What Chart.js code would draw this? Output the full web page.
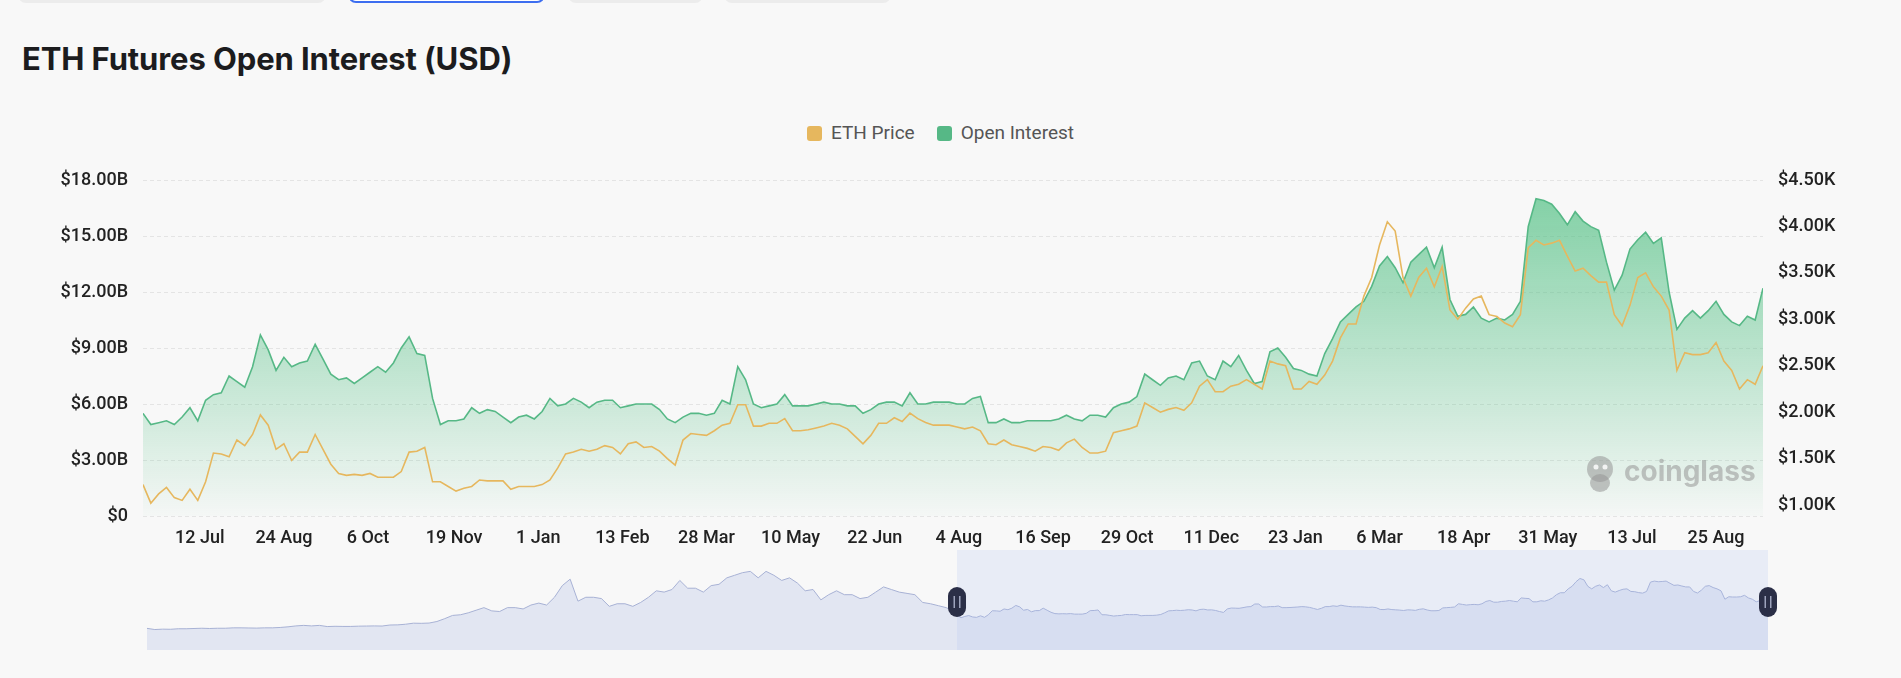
<!DOCTYPE html>
<html>
<head>
<meta charset="utf-8">
<title>ETH Futures Open Interest (USD)</title>
<script src="https://cdn.jsdelivr.net/npm/chart.js@4.4.1/dist/chart.umd.min.js"></script>
<style>
  html, body { margin: 0; padding: 0; background: #f8f8f8; }
  body { width: 1901px; height: 678px; position: relative; overflow: hidden; font-family: Roboto, "Noto Sans", sans-serif; }
  .tab { position: absolute; top: -31px; height: 34px; border-radius: 8px; background: #ececec; box-sizing: border-box; }
  .tab.active { background: #ffffff; border: 2px solid #3d6ef0; }
  h1 { position: absolute; left: 22px; top: 43px; margin: 0; font: 700 31px/31px Inter, sans-serif; letter-spacing: -0.1px; color: #1c1c1e; }
  #legend { position: absolute; left: 807px; top: 122px; height: 22px; display: flex; align-items: center; gap: 22px; font: 400 19px/22px Roboto, sans-serif; color: #555; }
  #legend .item { display: flex; align-items: center; gap: 9px; }
  #legend .box { width: 15px; height: 15px; border-radius: 3px; }
  #main { position: absolute; left: 0; top: 0; }
  #slider { position: absolute; left: 0; top: 540px; }
</style>
</head>
<body>
<div class="tab" style="left:18px;width:308px"></div>
<div class="tab active" style="left:348px;width:197px"></div>
<div class="tab" style="left:568px;width:135px"></div>
<div class="tab" style="left:724px;width:167px"></div>
<h1>ETH Futures Open Interest (USD)</h1>
<div id="legend"></div>
<canvas id="main" width="1901" height="560"></canvas>
<canvas id="slider" width="1901" height="120"></canvas>
<script>
// ---------- data ----------
const START_DATE = '2022-06-13';      // first point of the main chart
const STEP_DAYS = 4;                  // one sample every 4 days
const HISTORY_START = '2020-03-08';   // first point of the zoom slider
const HISTORY_STEP_DAYS = 8;

// x-axis tick labels (dates)
const tickDates = ['2022-07-12', '2022-08-24', '2022-10-06', '2022-11-19', '2023-01-01', '2023-02-13',
  '2023-03-28', '2023-05-10', '2023-06-22', '2023-08-04', '2023-09-16', '2023-10-29', '2023-12-11',
  '2024-01-23', '2024-03-06', '2024-04-18', '2024-05-31', '2024-07-13', '2024-08-25'];
const leftTicks = [0, 3, 6, 9, 12, 15, 18];                  // $B
const rightTicks = [1, 1.5, 2, 2.5, 3, 3.5, 4, 4.5];         // $K

// open interest, $B
const openInterest = [
  5.5, 4.9, 5.0, 5.1, 4.9, 5.3, 5.8, 5.1, 6.2, 6.5,
  6.6, 7.5, 7.2, 6.9, 8.0, 9.7, 8.9, 7.8, 8.5, 8.0,
  8.2, 8.3, 9.2, 8.4, 7.6, 7.3, 7.4, 7.1, 7.4, 7.7,
  8.0, 7.7, 8.2, 9.0, 9.6, 8.7, 8.6, 6.3, 4.9, 5.1,
  5.1, 5.2, 5.8, 5.5, 5.7, 5.6, 5.3, 5.0, 5.3, 5.4,
  5.2, 5.6, 6.3, 5.9, 6.0, 6.3, 6.1, 5.8, 6.1, 6.2,
  6.2, 5.8, 5.9, 6.0, 6.0, 6.0, 5.7, 5.2, 5.0, 5.3,
  5.5, 5.5, 5.4, 5.5, 6.2, 6.0, 8.0, 7.3, 6.0, 5.8,
  5.9, 6.0, 6.5, 5.9, 5.9, 5.9, 6.0, 6.1, 6.0, 6.0,
  5.9, 5.9, 5.5, 5.7, 6.0, 6.1, 6.1, 5.9, 6.6, 6.0,
  6.0, 6.1, 6.1, 6.1, 6.0, 6.0, 6.3, 6.4, 5.0, 5.0,
  5.2, 5.0, 5.0, 5.1, 5.1, 5.1, 5.1, 5.2, 5.4, 5.2,
  5.1, 5.4, 5.4, 5.3, 5.8, 6.0, 6.1, 6.4, 7.6, 7.3,
  7.0, 7.4, 7.5, 7.3, 8.2, 8.3, 7.5, 7.3, 8.3, 8.0,
  8.6, 7.8, 7.1, 7.2, 8.8, 9.0, 8.5, 7.9, 7.8, 7.6,
  7.5, 8.7, 9.5, 10.4, 10.8, 11.2, 11.5, 12.3, 13.4, 13.9,
  13.3, 12.5, 13.6, 14.0, 14.4, 13.3, 14.4, 11.6, 10.7, 10.8,
  11.2, 10.6, 10.4, 10.6, 10.5, 10.8, 11.5, 15.5, 17.0, 16.9,
  16.7, 16.2, 15.6, 16.3, 15.8, 15.5, 15.3, 13.6, 12.1, 12.9,
  14.3, 14.8, 15.2, 14.6, 14.9, 12.0, 10.0, 10.6, 11.0, 10.6,
  11.0, 11.5, 10.8, 10.4, 10.2, 10.7, 10.5, 12.2
];

// ETH price, $K
const ethPrice = [
  1.22, 1.02, 1.12, 1.19, 1.08, 1.05, 1.17, 1.05, 1.25, 1.56,
  1.55, 1.52, 1.70, 1.64, 1.76, 1.97, 1.86, 1.60, 1.66, 1.48,
  1.57, 1.57, 1.76, 1.60, 1.44, 1.34, 1.32, 1.33, 1.32, 1.34,
  1.30, 1.30, 1.30, 1.36, 1.57, 1.58, 1.62, 1.25, 1.25, 1.20,
  1.15, 1.18, 1.20, 1.27, 1.26, 1.26, 1.26, 1.17, 1.20, 1.20,
  1.20, 1.22, 1.27, 1.40, 1.55, 1.57, 1.60, 1.58, 1.60, 1.64,
  1.62, 1.55, 1.66, 1.68, 1.62, 1.63, 1.58, 1.50, 1.43, 1.70,
  1.77, 1.76, 1.75, 1.80, 1.86, 1.88, 2.08, 2.08, 1.85, 1.85,
  1.88, 1.88, 1.93, 1.80, 1.80, 1.81, 1.83, 1.85, 1.88, 1.86,
  1.82, 1.74, 1.66, 1.75, 1.88, 1.88, 1.94, 1.90, 1.99, 1.93,
  1.89, 1.86, 1.86, 1.86, 1.84, 1.82, 1.84, 1.80, 1.66, 1.65,
  1.70, 1.65, 1.63, 1.61, 1.58, 1.63, 1.62, 1.59, 1.67, 1.71,
  1.62, 1.56, 1.56, 1.58, 1.78, 1.80, 1.82, 1.85, 2.10, 2.05,
  2.00, 2.03, 2.05, 2.02, 2.10, 2.28, 2.35, 2.22, 2.22, 2.28,
  2.30, 2.35, 2.30, 2.25, 2.55, 2.52, 2.50, 2.25, 2.25, 2.33,
  2.30, 2.40, 2.55, 2.80, 2.95, 2.95, 3.25, 3.45, 3.80, 4.05,
  3.95, 3.45, 3.25, 3.45, 3.55, 3.35, 3.57, 3.10, 3.00, 3.12,
  3.22, 3.25, 3.05, 3.03, 2.96, 2.92, 3.05, 3.77, 3.85, 3.80,
  3.82, 3.85, 3.68, 3.52, 3.55, 3.47, 3.40, 3.40, 3.05, 2.93,
  3.15, 3.45, 3.50, 3.35, 3.25, 3.10, 2.45, 2.64, 2.62, 2.62,
  2.64, 2.75, 2.55, 2.45, 2.25, 2.35, 2.30, 2.50
];

// ETH price before the main window, $K (only in the zoom slider)
const ethPriceHistory = [
  0.20, 0.11, 0.14, 0.13, 0.17, 0.17, 0.19, 0.21, 0.19, 0.21,
  0.21, 0.24, 0.24, 0.23, 0.22, 0.24, 0.24, 0.27, 0.32, 0.39,
  0.43, 0.39, 0.43, 0.34, 0.36, 0.35, 0.35, 0.37, 0.38, 0.39,
  0.38, 0.46, 0.47, 0.52, 0.60, 0.59, 0.61, 0.73, 0.95, 1.20,
  1.25, 1.40, 1.60, 1.80, 1.55, 1.50, 1.80, 1.80, 1.70, 2.00,
  2.15, 2.00, 2.60, 3.50, 4.00, 2.30, 2.60, 2.60, 2.50, 1.90,
  2.10, 2.10, 1.90, 2.20, 2.60, 3.10, 3.00, 3.20, 3.90, 3.30,
  3.30, 3.00, 3.50, 3.60, 4.10, 4.30, 4.50, 4.60, 4.10, 4.60,
  4.30, 3.90, 4.10, 3.70, 3.10, 3.20, 2.40, 2.80, 3.10, 2.80,
  2.80, 2.50, 2.60, 3.00, 3.40, 3.20, 3.00, 2.90, 2.80, 2.20,
  2.10, 1.95, 1.80, 1.50
];

// ---------- helpers ----------
const MONTHS = ['Jan', 'Feb', 'Mar', 'Apr', 'May', 'Jun', 'Jul', 'Aug', 'Sep', 'Oct', 'Nov', 'Dec'];
const DAY = 86400000;
function daysBetween(a, b) { return Math.round((Date.parse(b) - Date.parse(a)) / DAY); }
function dayOf(iso) { return daysBetween(START_DATE, iso); }
function shortDate(iso) { const d = new Date(Date.parse(iso)); return d.getUTCDate() + ' ' + MONTHS[d.getUTCMonth()]; }

const lastDay = (openInterest.length - 1) * STEP_DAYS;
const oiPoints = openInterest.map((v, i) => ({ x: i * STEP_DAYS, y: v }));
const pricePoints = ethPrice.map((v, i) => ({ x: i * STEP_DAYS, y: v }));

const axisFont = { family: 'Roboto', size: 18, weight: '500' };

// coinglass watermark in the lower right of the plot
const watermark = {
  id: 'watermark',
  afterDatasetsDraw(chart) {
    const c = chart.ctx, a = chart.chartArea;
    c.save();
    c.fillStyle = 'rgba(150,150,150,0.55)';
    const cx = a.right - 163, cy = a.bottom - 44;
    c.beginPath();
    c.arc(cx, cy - 3, 13, 0, Math.PI * 2);
    c.fill();
    c.beginPath();
    c.ellipse(cx, cy + 11, 10, 9, 0, 0, Math.PI * 2);
    c.fill();
    c.fillStyle = 'rgba(248,248,248,0.9)';
    c.beginPath();
    c.arc(cx - 4, cy - 5, 2.5, 0, Math.PI * 2);
    c.arc(cx + 5, cy - 5, 2.5, 0, Math.PI * 2);
    c.fill();
    c.fillStyle = 'rgba(150,150,150,0.55)';
    c.font = '700 28px Inter, sans-serif';
    c.textBaseline = 'alphabetic';
    c.fillText('coinglass', cx + 24, cy + 9);
    c.restore();
  }
};

// ---------- main chart ----------
const mainChart = new Chart(document.getElementById('main').getContext('2d'), {
  type: 'line',
  data: {
    datasets: [
      {
        label: 'ETH Price',
        data: pricePoints,
        yAxisID: 'y1',
        borderColor: '#e6b75e',
        borderWidth: 1.6,
        pointRadius: 0,
        tension: 0,
        fill: false
      },
      {
        label: 'Open Interest',
        data: oiPoints,
        yAxisID: 'y',
        borderColor: '#56b886',
        borderWidth: 1.6,
        pointRadius: 0,
        tension: 0,
        fill: 'origin',
        backgroundColor(context) {
          const area = context.chart.chartArea;
          if (!area) return 'rgba(77,190,128,0.3)';
          const g = context.chart.ctx.createLinearGradient(0, area.top, 0, area.bottom);
          g.addColorStop(0, 'rgba(77,190,128,0.72)');
          g.addColorStop(1, 'rgba(77,190,128,0.02)');
          return g;
        }
      }
    ]
  },
  options: {
    responsive: false,
    animation: false,
    layout: { padding: { top: 180, left: 0, right: 0, bottom: 0 } },
    plugins: { legend: { display: false }, tooltip: { enabled: false } },
    scales: {
      x: {
        type: 'linear',
        min: 0,
        max: lastDay,
        afterBuildTicks(s) { s.ticks = tickDates.map(d => ({ value: dayOf(d) })); },
        afterFit(s) { s.height = 44; },
        ticks: {
          autoSkip: false, maxRotation: 0, padding: 12, font: axisFont, color: '#222',
          callback(v, i) { return shortDate(tickDates[i]); }
        },
        grid: { display: false, drawTicks: false },
        border: { display: false }
      },
      y: {
        position: 'left',
        min: 0,
        max: 18,
        afterBuildTicks(s) { s.ticks = leftTicks.map(v => ({ value: v })); },
        afterFit(s) { s.width = 143; },
        ticks: {
          padding: 15, font: axisFont, color: '#222',
          callback(v) { return v === 0 ? '$0' : '$' + v.toFixed(2) + 'B'; }
        },
        grid: { color: '#e4e4e4', lineWidth: 1, drawTicks: false },
        border: { display: false, dash: [4, 3] }
      },
      y1: {
        position: 'right',
        min: 0.882,
        max: 4.5,
        afterBuildTicks(s) { s.ticks = rightTicks.map(v => ({ value: v })); },
        afterFit(s) { s.width = 138; },
        ticks: {
          padding: 15, font: axisFont, color: '#222',
          callback(v) { return '$' + v.toFixed(2) + 'K'; }
        },
        grid: { display: false, drawTicks: false },
        border: { display: false }
      }
    }
  },
  plugins: [watermark]
});

// legend built from the chart's datasets
const legendEl = document.getElementById('legend');
mainChart.data.datasets.forEach(ds => {
  const item = document.createElement('div');
  item.className = 'item';
  const box = document.createElement('span');
  box.className = 'box';
  box.style.background = ds.borderColor;
  const txt = document.createElement('span');
  txt.textContent = ds.label;
  item.appendChild(box);
  item.appendChild(txt);
  legendEl.appendChild(item);
});

// ---------- zoom slider ----------
const historyDays = daysBetween(HISTORY_START, START_DATE);
const sliderPoints = ethPriceHistory.map((v, j) => ({ x: j * HISTORY_STEP_DAYS, y: v }))
  .concat(ethPrice.map((v, i) => ({ x: historyDays + i * STEP_DAYS, y: v })));

const sliderWindow = {
  id: 'sliderWindow',
  afterDatasetsDraw(chart) {
    const c = chart.ctx, a = chart.chartArea, xs = chart.scales.x;
    const x0 = xs.getPixelForValue(historyDays), x1 = xs.getPixelForValue(historyDays + lastDay);
    c.save();
    c.fillStyle = 'rgba(170,190,240,0.2)';
    c.fillRect(x0, a.top, x1 - x0, a.bottom - a.top);
    const cy = 62;
    [x0, x1].forEach(x => {
      c.fillStyle = '#2b2f47';
      c.beginPath();
      c.roundRect(x - 9, cy - 15, 18, 30, 9);
      c.fill();
      c.fillStyle = '#9ea4bd';
      c.fillRect(x - 3.5, cy - 6, 1.5, 12);
      c.fillRect(x + 2, cy - 6, 1.5, 12);
    });
    c.restore();
  }
};

new Chart(document.getElementById('slider').getContext('2d'), {
  type: 'line',
  data: {
    datasets: [{
      label: 'ETH Price',
      data: sliderPoints,
      borderColor: '#a7b1d4',
      borderWidth: 1,
      pointRadius: 0,
      tension: 0,
      fill: 'start',
      backgroundColor: 'rgba(200,208,235,0.45)'
    }]
  },
  options: {
    responsive: false,
    animation: false,
    layout: { padding: { top: 10, bottom: 10, left: 147, right: 133 } },
    plugins: { legend: { display: false }, tooltip: { enabled: false } },
    scales: {
      x: { type: 'linear', display: false, min: 0, max: historyDays + lastDay },
      y: { display: false, min: -1.47, max: 6.25 }
    }
  },
  plugins: [sliderWindow]
});
</script>
</body>
</html>
